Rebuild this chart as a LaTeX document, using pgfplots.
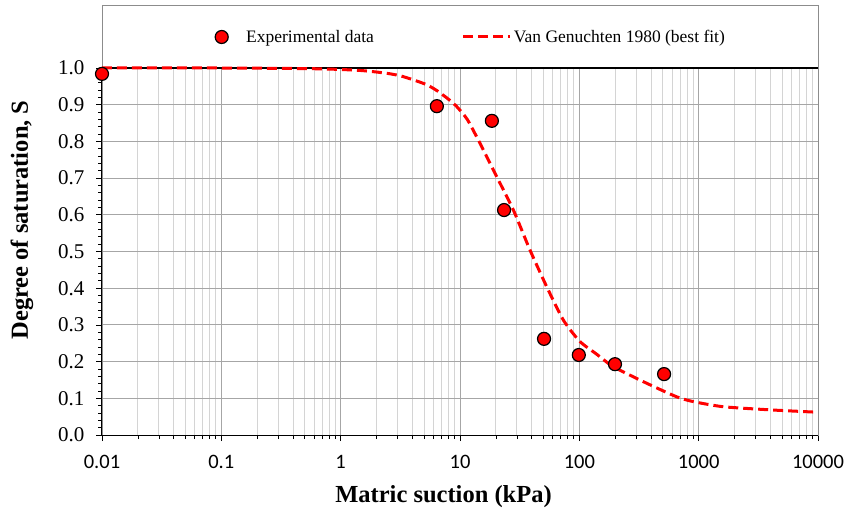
\documentclass[border=0pt]{standalone}
\usepackage{fontspec}
\setmainfont{Liberation Serif}
\newfontfamily\carlito{Carlito}
\usepackage{pgfplots}
\pgfplotsset{compat=1.18}
\definecolor{majgrid}{HTML}{A6A6A6}
\definecolor{mingrid}{HTML}{D4D4D4}
\definecolor{framegray}{HTML}{8C8C8C}
\pgfplotsset{
  dashleg/.style={legend image code/.code={\draw[##1] (0pt,0pt) -- (47pt,0pt);}},
  scatleg/.style={legend image code/.code={\path[draw=none] (0pt,0pt) -- (29pt,0pt); \draw[##1] plot coordinates {(6.5pt,0pt)};}},
}
\begin{document}
\begin{tikzpicture}
\begin{semilogxaxis}[
  scale only axis,
  width=716pt, height=367pt,
  xmin=0.01, xmax=10000, ymin=0, ymax=1,
  clip=false,
  axis line style={draw=none},
  xtick={0.01,0.1,1,10,100,1000,10000},
  xticklabels={0.01,0.1,1,10,100,1000,10000},
  minor xtick={0.02,0.03,0.04,0.05,0.06,0.07,0.08,0.09,0.2,0.3,0.4,0.5,0.6,0.7,0.8,0.9,2,3,4,5,6,7,8,9,20,30,40,50,60,70,80,90,200,300,400,500,600,700,800,900,2000,3000,4000,5000,6000,7000,8000,9000},
  ytick={0,0.1,0.2,0.3,0.4,0.5,0.6,0.7,0.8,0.9,1.0},
  minor y tick num=4,
  xtick pos=bottom, ytick pos=left,
  tick align=outside,
  major tick length=6pt, minor tick length=4pt,
  every tick/.style={black, line width=0.8pt},
  xmajorgrids, xminorgrids, ymajorgrids,
  major grid style={majgrid, line width=0.9pt},
  minor grid style={mingrid, line width=0.9pt},
  xticklabel style={font=\carlito\fontsize{20.5}{24}\selectfont, yshift=-11pt},
  yticklabel style={font=\fontsize{21}{25}\selectfont, /pgf/number format/assume math mode=true, /pgf/number format/fixed, /pgf/number format/fixed zerofill, /pgf/number format/precision=1, xshift=-8pt},
  xlabel={\textbf{Matric suction (kPa)}},
  ylabel={\textbf{Degree of saturation, S}},
  every axis x label/.style={at={(axis description cs:0.5,0)}, xshift=-16.5pt, yshift=-61.7pt, anchor=center, font=\fontsize{24.5}{28}\selectfont},
  every axis y label/.style={at={(axis description cs:0,0.5858)}, xshift=-80pt, rotate=90, anchor=center, font=\fontsize{24.5}{28}\selectfont},
  legend style={at={(axis description cs:0,1)}, anchor=west, xshift=110pt, yshift=31pt, draw=none, fill=none, legend columns=2, font=\fontsize{17.5}{21}\selectfont, /tikz/every even column/.append style={column sep=86pt}},
]
\coordinate (bl) at (rel axis cs:0,0);
\draw[framegray, line width=0.9pt] (rel axis cs:0,0) rectangle ([yshift=63pt]rel axis cs:1,1);
\draw[black, line width=1.5pt] (rel axis cs:0,1) -- (rel axis cs:1,1);
\draw[black, line width=1pt] (rel axis cs:0,1) -- (rel axis cs:0,0) -- (rel axis cs:1,0);
\addplot[only marks, mark=*, mark size=6.5pt, mark options={fill=red, draw=black, line width=1.2pt}, scatleg]
  coordinates {(0.01,0.984) (6.4,0.896) (18.5,0.856) (23.4,0.613) (50.6,0.262) (99,0.218) (199,0.193) (513,0.166)};
\addlegendentry{Experimental data}
\addplot[red, line width=3pt, dash pattern=on 10pt off 5pt, smooth, tension=0.4, dashleg]
  coordinates {(0.01,1.0) (0.1,1.0) (0.3,0.999) (0.6,0.998) (1,0.996) (1.5,0.993) (2,0.989) (2.5,0.985) (3.14,0.979) (4.04,0.968) (5.3,0.954) (6.5,0.937) (8,0.915) (9.38,0.895) (11.5,0.86) (14.7,0.795) (20.3,0.704) (28,0.613) (38.6,0.504) (53.3,0.404) (73.5,0.313) (101,0.255) (140,0.22) (193,0.186) (367,0.141) (655,0.104) (902,0.091) (1610,0.077) (4226,0.068) (10000,0.062)};
\addlegendentry{Van Genuchten 1980 (best fit)}
\end{semilogxaxis}
\pgfresetboundingbox
\path ([shift={(-102pt,-74pt)}]bl) rectangle ([shift={(746pt,435pt)}]bl);
\end{tikzpicture}
\end{document}
